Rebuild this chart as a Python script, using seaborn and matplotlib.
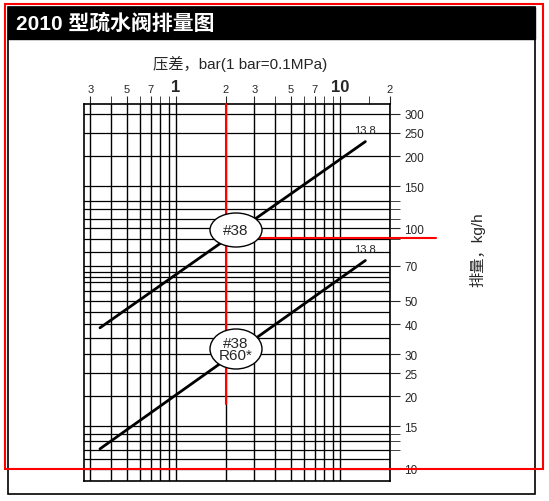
import numpy as np
import pandas as pd
import matplotlib
matplotlib.use("Agg")
import matplotlib.pyplot as plt
import seaborn as sns
from matplotlib.patches import Rectangle, Ellipse
from matplotlib.ticker import FixedLocator, NullFormatter

sns.set_style("white")
plt.rcParams['font.family'] = ['Liberation Sans', 'Noto Sans CJK SC', 'DejaVu Sans']

# data
pressure = [0.344, 14.2]
flow_38 = [38.6, 230]
flow_38_r60 = [12.1, 73.6]
x_ticks = [0.3, 0.5, 0.7, 1, 2, 3, 5, 7, 10, 20]
x_labels = ["3", "5", "7", "1", "2", "3", "5", "7", "10", "2"]
x_grid = [0.3, 0.4, 0.5, 0.6, 0.7, 0.8, 0.9, 1, 2, 3, 4, 5, 6, 7, 8, 9, 10, 20]
y_ticks = [10, 15, 20, 25, 30, 40, 50, 70, 100, 150, 200, 250, 300]
y_grid = [10, 11, 12, 13, 14, 15, 20, 25, 30, 35, 40, 45, 50, 55, 60, 63, 66, 70,
          80, 90, 100, 110, 120, 130, 150, 200, 250, 300]

df = pd.DataFrame({"p": pressure * 2,
                   "q": flow_38 + flow_38_r60,
                   "s": ["#38"] * 2 + ["#38 R60*"] * 2})

fig = plt.figure(figsize=(5.49, 5.02), dpi=100)
ax = fig.add_axes([0.153, 0.04, 0.557, 0.751])
ax.set_xscale("log")
ax.set_yscale("log")
ax.set_xlim(0.275, 20)
ax.set_ylim(8.9, 330)

for gx in x_grid:
    ax.axvline(gx, color="black", lw=1.0, zorder=1)
for gy in y_grid:
    ax.axhline(gy, color="black", lw=0.9, zorder=1)

sns.lineplot(data=df, x="p", y="q", units="s", estimator=None, color="black",
             lw=2, ax=ax, legend=False, zorder=3)

ax.text(14.2, 245, "13.8", fontsize=8, ha="center", va="bottom")
ax.text(14.2, 78, "13.8", fontsize=8, ha="center", va="bottom")

# red guide lines
ax.plot([2, 2], [18.6, 330], color="red", lw=1.5, zorder=4, clip_on=False)
ax.plot([1.8, 38], [91, 91], color="red", lw=1.5, zorder=4, clip_on=False)

# labels in ovals
fig.patches.append(Ellipse((236 / 549, 1 - 231 / 502), 52 / 549, 34 / 502,
                           transform=fig.transFigure, fc="white", ec="black", lw=1, zorder=5))
fig.text(236 / 549, 1 - 231 / 502, "#38", ha="center", va="center", fontsize=11, zorder=6)
fig.patches.append(Ellipse((236 / 549, 1 - 350 / 502), 52 / 549, 40 / 502,
                           transform=fig.transFigure, fc="white", ec="black", lw=1, zorder=5))
fig.text(236 / 549, 1 - 350 / 502, "#38\nR60*", ha="center", va="center",
         fontsize=11, linespacing=0.85, zorder=6)

# axes ticks: top and right
ax.xaxis.tick_top()
ax.xaxis.set_major_locator(FixedLocator(x_ticks))
ax.set_xticklabels(x_labels, fontsize=8)
for lbl in ax.get_xticklabels():
    if lbl.get_text() in ("1", "10"):
        lbl.set_fontsize(12)
        lbl.set_fontweight("bold")
ax.xaxis.set_minor_locator(FixedLocator([0.4, 0.6, 0.8, 0.9, 4, 6, 8, 9, 15]))
ax.xaxis.set_minor_formatter(NullFormatter())
ax.tick_params(axis="x", which="both", direction="out", length=6, pad=1, top=True, bottom=False)
ax.yaxis.tick_right()
ax.yaxis.set_major_locator(FixedLocator(y_ticks))
ax.set_yticklabels([str(v) for v in y_ticks], fontsize=8.5)
ax.yaxis.set_minor_locator(FixedLocator([12, 13, 14, 90, 110, 120, 130]))
ax.yaxis.set_minor_formatter(NullFormatter())
ax.tick_params(axis="y", which="both", direction="out", length=7, right=True, left=False)
ax.set_xlabel("")
ax.set_ylabel("")
for sp in ax.spines.values():
    sp.set_color("black")
    sp.set_linewidth(1.2)

fig.text(240 / 549, 1 - 64 / 502, "压差，bar(1 bar=0.1MPa)", ha="center", va="center", fontsize=11)
fig.text(477 / 549, 1 - 250 / 502, "排量，kg/h", rotation=90, ha="center", va="center", fontsize=11)

# title band and frames
fig.patches.append(Rectangle((8 / 549, 1 - 40 / 502), 527 / 549, 32 / 502,
                             transform=fig.transFigure, fc="black", ec="black", zorder=1))
fig.text(16 / 549, 1 - 24 / 502, "2010 型疏水阀排量图", color="white", fontsize=15,
         fontweight="bold", ha="left", va="center")
fig.patches.append(Rectangle((8 / 549, 1 - 495 / 502), 527 / 549, 487 / 502,
                             transform=fig.transFigure, fc="none", ec="black", lw=1.2))
fig.patches.append(Rectangle((5 / 549, 1 - 470 / 502), 538 / 549, 465 / 502,
                             transform=fig.transFigure, fc="none", ec="red", lw=1.5, zorder=10))

fig.savefig("out.png", dpi=100)
